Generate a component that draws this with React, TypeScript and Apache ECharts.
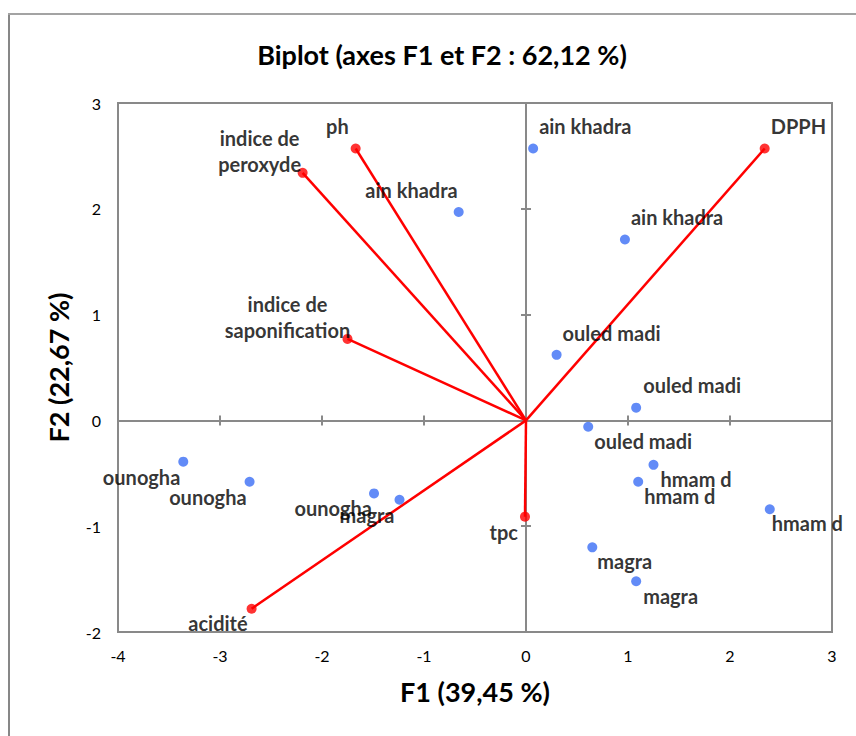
import React, { useEffect, useRef } from 'react';
import * as echarts from 'echarts';

const titleText = 'Biplot (axes F1 et F2 : 62,12 %)';
const xAxisTitle = 'F1 (39,45 %)';
const yAxisTitle = 'F2 (22,67 %)';
const xMin = -4;
const xMax = 3;
const yMin = -2;
const yMax = 3;
const tickStep = 1;

const variableNames = ['ph', 'indice de\nperoxyde', 'indice de\nsaponification', 'DPPH', 'acidité', 'tpc'];
const variableF1 = [-1.67, -2.19, -1.75, 2.34, -2.69, -0.01];
const variableF2 = [2.57, 2.34, 0.77, 2.57, -1.78, -0.91];

const observationNames = [
  'ain khadra', 'ain khadra', 'ain khadra',
  'ouled madi', 'ouled madi', 'ouled madi',
  'hmam d', 'hmam d', 'hmam d',
  'magra', 'magra', 'magra',
  'ounogha', 'ounogha', 'ounogha',
];
const observationF1 = [0.07, -0.66, 0.97, 0.30, 1.08, 0.61, 1.25, 1.10, 2.39, 0.65, 1.08, -1.24, -1.49, -2.71, -3.36];
const observationF2 = [2.57, 1.97, 1.71, 0.62, 0.12, -0.06, -0.42, -0.58, -0.84, -1.20, -1.52, -0.75, -0.69, -0.58, -0.39];

// label placement (layout only)
const variableLabelAlign = ['right', 'center', 'center', 'left', 'right', 'right'];
const variableLabelOffset = [[-7, -22], [-43, -22], [-60, -22], [6, -22], [-4, 14], [-7, 15]];
const observationLabelAlign = ['left', 'right', 'left', 'left', 'left', 'left', 'left', 'left', 'left', 'left', 'left', 'right', 'right', 'right', 'right'];
const observationLabelOffset = [
  [6, -22], [-1, -22], [6, -22],
  [6, -22], [7, -23], [6, 14],
  [7, 14], [6, 14], [2, 14],
  [5, 14], [7, 15], [-5, 15],
  [-2, 15], [-3, 15], [-3, 15],
];

const FONT = 'Lato, "Noto Sans", sans-serif';
const AXIS_GRAY = '#898989';
const RED = '#ff0000';
const BLUE = '#3b6ef5';

export default function App() {
  const ref = useRef<HTMLDivElement>(null);

  useEffect(() => {
    if (!ref.current) return;
    const chart = echarts.init(ref.current, null, { renderer: 'svg' });

    const baseLabel = {
      show: true,
      position: ['50%', '50%'],
      verticalAlign: 'middle',
      color: '#000',
      fontFamily: FONT,
      fontWeight: 'bold',
      fontSize: 20,
      lineHeight: 26,
      textBorderWidth: 0,
    };

    const lineSeries = variableNames.map((name, i) => ({
      type: 'line',
      name: 'vec_' + i,
      data: [[0, 0], [variableF1[i], variableF2[i]]],
      symbol: 'none',
      showSymbol: false,
      silent: true,
      lineStyle: { color: RED, width: 2.5 },
      z: 2,
    }));

    const variableData = variableNames.map((name, i) => ({
      name,
      value: [variableF1[i], variableF2[i]],
      label: { ...baseLabel, formatter: name, align: variableLabelAlign[i], offset: variableLabelOffset[i] },
    }));

    const observationData = observationNames.map((name, i) => ({
      name,
      value: [observationF1[i], observationF2[i]],
      label: { ...baseLabel, formatter: name, align: observationLabelAlign[i], offset: observationLabelOffset[i] },
    }));

    const axisCommon = {
      type: 'value',
      splitLine: { show: false },
    };

    const option = {
      animation: false,
      backgroundColor: '#ffffff',
      title: {
        text: titleText,
        left: 437,
        top: 36,
        textAlign: 'center',
        textStyle: { fontFamily: FONT, fontWeight: 'bold', fontSize: 27, color: '#000' },
      },
      graphic: [
        { type: 'line', shape: { x1: 9, y1: 14, x2: 9, y2: 740 }, style: { stroke: '#878787', lineWidth: 2 } },
        { type: 'line', shape: { x1: 8, y1: 14, x2: 860, y2: 14 }, style: { stroke: '#a3a3a3', lineWidth: 2 } },
      ],
      grid: {
        left: 118,
        top: 103,
        width: 714,
        height: 529,
        show: true,
        borderColor: AXIS_GRAY,
        borderWidth: 2,
        backgroundColor: 'transparent',
      },
      xAxis: [
        {
          ...axisCommon,
          min: xMin, max: xMax, interval: tickStep,
          position: 'bottom',
          axisLine: { show: false, onZero: false },
          axisTick: { show: false },
          axisLabel: { show: true, margin: 15, color: '#000', fontFamily: FONT, fontSize: 16 },
          name: xAxisTitle,
          nameLocation: 'middle',
          nameGap: 46,
          nameTextStyle: { fontFamily: FONT, fontWeight: 'bold', fontSize: 27, color: '#000' },
        },
        {
          ...axisCommon,
          min: xMin, max: xMax, interval: tickStep,
          position: 'bottom',
          axisLine: { show: true, onZero: true, onZeroAxisIndex: 0, lineStyle: { color: AXIS_GRAY, width: 2 } },
          axisTick: { show: true, inside: false, length: 5, lineStyle: { color: AXIS_GRAY, width: 2 } },
          axisLabel: { show: false },
        },
        {
          ...axisCommon,
          min: xMin, max: xMax, interval: tickStep,
          position: 'bottom',
          axisLine: { show: true, onZero: true, onZeroAxisIndex: 0, lineStyle: { color: AXIS_GRAY, width: 2 } },
          axisTick: { show: true, inside: true, length: 5, lineStyle: { color: AXIS_GRAY, width: 2 } },
          axisLabel: { show: false },
        },
      ],
      yAxis: [
        {
          ...axisCommon,
          min: yMin, max: yMax, interval: tickStep,
          position: 'left',
          axisLine: { show: false, onZero: false },
          axisTick: { show: false },
          axisLabel: { show: true, margin: 17, color: '#000', fontFamily: FONT, fontSize: 16 },
          name: yAxisTitle,
          nameLocation: 'middle',
          nameGap: 46,
          nameRotate: 90,
          nameTextStyle: { fontFamily: FONT, fontWeight: 'bold', fontSize: 27, color: '#000' },
        },
        {
          ...axisCommon,
          min: yMin, max: yMax, interval: tickStep,
          position: 'left',
          axisLine: { show: true, onZero: true, onZeroAxisIndex: 0, lineStyle: { color: AXIS_GRAY, width: 2 } },
          axisTick: { show: true, inside: false, length: 5, lineStyle: { color: AXIS_GRAY, width: 2 } },
          axisLabel: { show: false },
        },
        {
          ...axisCommon,
          min: yMin, max: yMax, interval: tickStep,
          position: 'left',
          axisLine: { show: true, onZero: true, onZeroAxisIndex: 0, lineStyle: { color: AXIS_GRAY, width: 2 } },
          axisTick: { show: true, inside: true, length: 5, lineStyle: { color: AXIS_GRAY, width: 2 } },
          axisLabel: { show: false },
        },
      ],
      series: [
        ...lineSeries,
        {
          type: 'scatter',
          name: 'variables',
          data: variableData,
          symbol: 'circle',
          symbolSize: 10,
          itemStyle: { color: RED },
          z: 3,
        },
        {
          type: 'scatter',
          name: 'observations',
          data: observationData,
          symbol: 'circle',
          symbolSize: 10,
          itemStyle: { color: BLUE },
          z: 3,
        },
      ],
    };

    chart.setOption(option as any);
    return () => chart.dispose();
  }, []);

  return (
    <div
      ref={ref}
      style={{ position: 'fixed', left: 0, top: 0, width: 856, height: 736, background: '#fff' }}
    />
  );
}
